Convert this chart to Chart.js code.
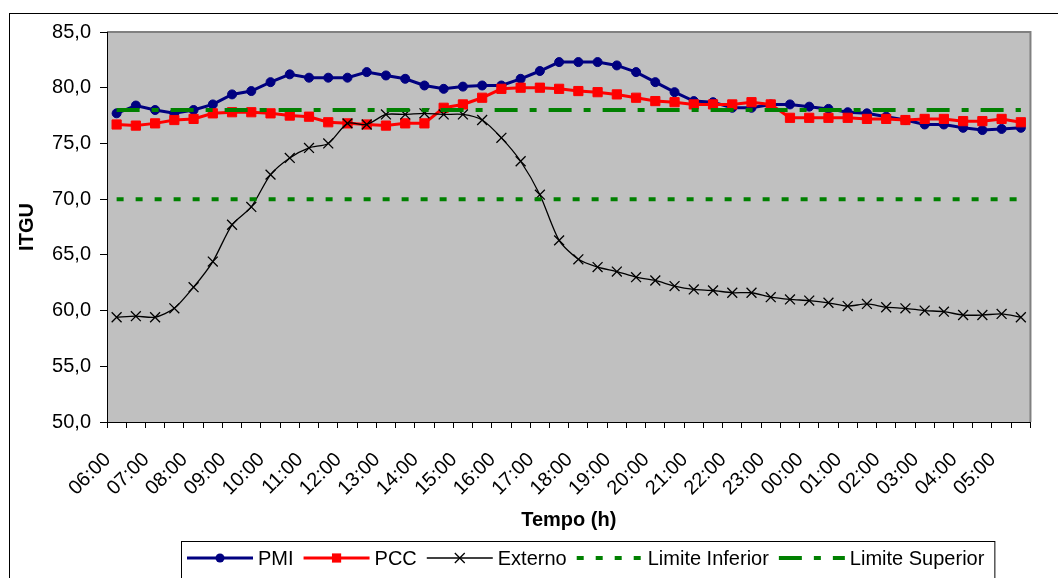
<!DOCTYPE html>
<html>
<head>
<meta charset="utf-8">
<script src="https://cdn.jsdelivr.net/npm/chart.js@4.4.1/dist/chart.umd.min.js"></script>
<style>
  html, body { margin: 0; padding: 0; background: #fff; overflow: hidden; }
  #wrap { width: 1058px; height: 578px; }
</style>
</head>
<body>
<div id="wrap"><canvas id="itguChart" width="1058" height="578"></canvas></div>
<script>
// horas cheias (o eixo tem um ponto a cada meia hora)
const hours = ['06:00', '07:00', '08:00', '09:00', '10:00', '11:00', '12:00', '13:00',
  '14:00', '15:00', '16:00', '17:00', '18:00', '19:00', '20:00', '21:00', '22:00', '23:00',
  '00:00', '01:00', '02:00', '03:00', '04:00', '05:00'];

const pmi = [77.7, 78.4, 78.0, 77.7, 78.0, 78.5, 79.4, 79.7, 80.5, 81.2, 80.9, 80.9,
  80.9, 81.4, 81.1, 80.8, 80.2, 79.9, 80.1, 80.2, 80.2, 80.8, 81.5, 82.3,
  82.3, 82.3, 82.0, 81.4, 80.5, 79.6, 78.8, 78.7, 78.2, 78.2, 78.5, 78.5,
  78.3, 78.1, 77.8, 77.7, 77.4, 77.1, 76.7, 76.7, 76.4, 76.2, 76.3, 76.4];

const pcc = [76.7, 76.6, 76.8, 77.1, 77.2, 77.7, 77.8, 77.8, 77.7, 77.5, 77.4, 76.9,
  76.8, 76.7, 76.6, 76.8, 76.8, 78.2, 78.5, 79.1, 79.9, 80.0, 80.0, 79.9,
  79.7, 79.6, 79.4, 79.1, 78.8, 78.7, 78.5, 78.5, 78.5, 78.7, 78.5, 77.3,
  77.3, 77.3, 77.3, 77.2, 77.2, 77.1, 77.2, 77.2, 77.0, 77.0, 77.2, 76.9];

const externo = [59.4, 59.5, 59.4, 60.2, 62.1, 64.4, 67.7, 69.3, 72.2, 73.7, 74.6, 75.0,
  76.8, 76.7, 77.6, 77.6, 77.7, 77.6, 77.6, 77.1, 75.5, 73.4, 70.4, 66.3,
  64.6, 63.9, 63.5, 63.0, 62.7, 62.2, 61.9, 61.8, 61.6, 61.6, 61.2, 61.0,
  60.9, 60.7, 60.4, 60.6, 60.3, 60.2, 60.0, 59.9, 59.6, 59.6, 59.7, 59.4];

const limiteInferior = 70;
const limiteSuperior = 78;

// rótulo só nas horas cheias
const labels = hours.flatMap(h => [h, '']);

const font = '"Liberation Sans", Arial, sans-serif';

const plotBackground = {
  id: 'plotBackground',
  beforeDraw(chart) {
    const { ctx, chartArea: a } = chart;
    ctx.save();
    ctx.strokeStyle = '#000';
    ctx.lineWidth = 1;
    ctx.strokeRect(9.5, 13.5, 1200, 800);
    ctx.fillStyle = '#c0c0c0';
    ctx.fillRect(a.left, a.top, a.right - a.left, a.bottom - a.top);
    ctx.strokeStyle = '#808080';
    ctx.lineWidth = 2;
    ctx.beginPath();
    ctx.moveTo(a.left, a.top);
    ctx.lineTo(a.right, a.top);
    ctx.lineTo(a.right, a.bottom);
    ctx.stroke();
    ctx.restore();
  }
};

function drawMarker(ctx, style, x, y, r) {
  ctx.beginPath();
  if (style === 'circle') {
    ctx.arc(x, y, r, 0, Math.PI * 2);
    ctx.fill();
  } else if (style === 'rect') {
    const s = r * Math.SQRT1_2;
    ctx.fillRect(x - s, y - s, 2 * s, 2 * s);
  } else if (style === 'crossRot') {
    const s = r * Math.SQRT1_2;
    ctx.moveTo(x - s, y - s); ctx.lineTo(x + s, y + s);
    ctx.moveTo(x - s, y + s); ctx.lineTo(x + s, y - s);
    ctx.stroke();
  }
}

const excelLegend = {
  id: 'excelLegend',
  afterDraw(chart) {
    const ctx = chart.ctx;
    const boxLeft = 181, boxTop = 541, lineY = 558, textY = 565;
    ctx.save();
    ctx.font = '20px ' + font;
    ctx.textBaseline = 'alphabetic';
    let x = 187;
    chart.data.datasets.forEach(ds => {
      ctx.strokeStyle = ds.borderColor;
      ctx.fillStyle = ds.borderColor;
      ctx.lineWidth = ds.borderWidth;
      ctx.setLineDash(ds.borderDash || []);
      ctx.beginPath();
      ctx.moveTo(x, lineY);
      ctx.lineTo(x + 66, lineY);
      ctx.stroke();
      ctx.setLineDash([]);
      if (ds.pointRadius > 0) {
        ctx.lineWidth = ds.pointBorderWidth;
        drawMarker(ctx, ds.pointStyle, x + 33, lineY, ds.pointRadius);
      }
      ctx.fillStyle = '#000';
      ctx.fillText(ds.label, x + 71, textY);
      x += 71 + ctx.measureText(ds.label).width + 10;
    });
    ctx.strokeStyle = '#000';
    ctx.lineWidth = 1;
    ctx.strokeRect(boxLeft + 0.5, boxTop + 0.5, x - boxLeft, 80);
    ctx.restore();
  }
};

new Chart(document.getElementById('itguChart'), {
  type: 'line',
  data: {
    labels: labels,
    datasets: [{
      label: 'PMI',
      data: pmi,
      borderColor: '#000080',
      backgroundColor: '#000080',
      borderWidth: 3,
      pointStyle: 'circle',
      pointRadius: 4.5,
      pointBorderWidth: 1,
      order: 5
    }, {
      label: 'PCC',
      data: pcc,
      borderColor: '#ff0000',
      backgroundColor: '#ff0000',
      borderWidth: 3,
      pointStyle: 'rect',
      pointRadius: 6.5,
      pointBorderWidth: 1,
      order: 4
    }, {
      label: 'Externo',
      data: externo,
      borderColor: '#000000',
      backgroundColor: '#000000',
      borderWidth: 1.3,
      pointStyle: 'crossRot',
      pointRadius: 7,
      pointBorderWidth: 1.3,
      tension: 0.25,
      order: 3
    }, {
      label: 'Limite Inferior',
      data: labels.map(() => limiteInferior),
      borderColor: '#008000',
      borderWidth: 4,
      borderDash: [7, 12],
      borderCapStyle: 'butt',
      pointRadius: 0,
      order: 2
    }, {
      label: 'Limite Superior',
      data: labels.map(() => limiteSuperior),
      borderColor: '#008000',
      borderWidth: 4,
      borderDash: [23, 12, 7, 12],
      borderCapStyle: 'butt',
      pointRadius: 0,
      order: 1
    }]
  },
  options: {
    responsive: false,
    animation: false,
    layout: { padding: { left: 0, top: 32, right: 17, bottom: 46 } },
    plugins: {
      legend: { display: false },
      tooltip: { enabled: false }
    },
    scales: {
      x: {
        offset: true,
        grid: { drawOnChartArea: false, drawTicks: true, tickLength: 6, color: '#000', offset: true },
        border: { display: true, color: '#000', width: 1 },
        ticks: {
          autoSkip: false, maxRotation: 45, minRotation: 45, padding: 20, labelOffset: -9,
          color: '#000', font: { family: font, size: 20 }
        },
        title: {
          display: true, text: 'Tempo (h)', color: '#000',
          font: { family: font, size: 20, weight: 'bold' }, padding: 0
        },
        afterFit: s => { s.height = 110; }
      },
      y: {
        min: 50,
        max: 85,
        grid: { drawOnChartArea: false, drawTicks: true, tickLength: 7, color: '#000' },
        border: { display: true, color: '#000', width: 1 },
        ticks: {
          stepSize: 5, padding: 9, color: '#000',
          font: { family: font, size: 20 },
          callback: v => v.toFixed(1).replace('.', ',')
        },
        title: {
          display: true, text: 'ITGU', color: '#000',
          font: { family: font, size: 20, weight: 'bold' }, padding: { top: 15, bottom: 0 }
        },
        afterFit: s => { s.width = 107; }
      }
    }
  },
  plugins: [plotBackground, excelLegend]
});
</script>
</body>
</html>
